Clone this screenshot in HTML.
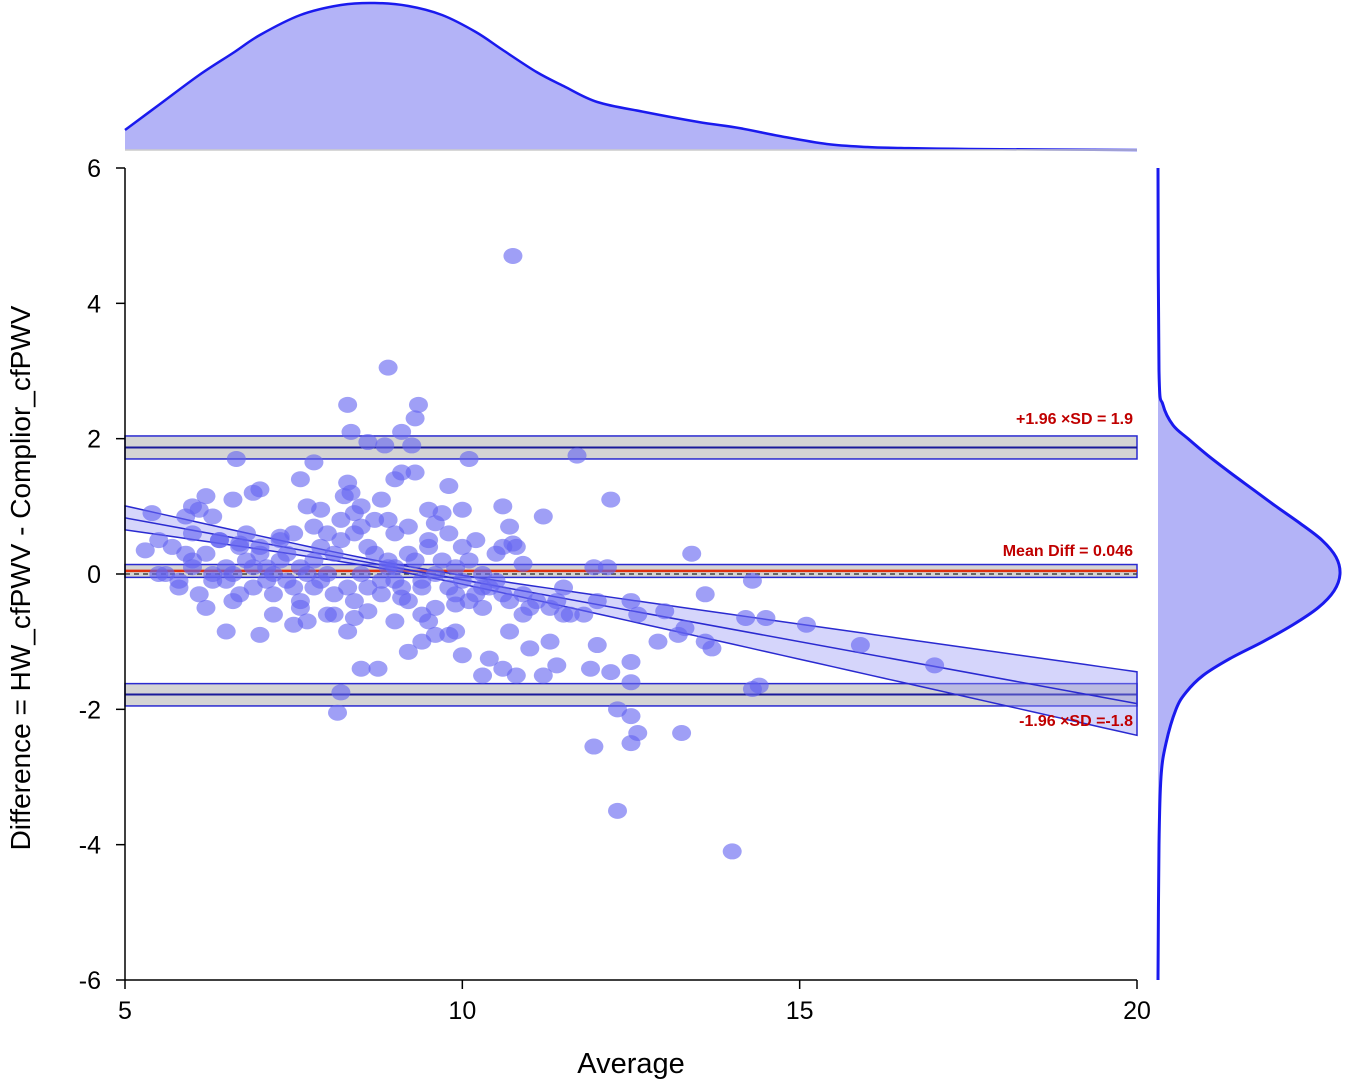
<!DOCTYPE html>
<html><head><meta charset="utf-8"><style>
body{margin:0;background:#fff;}
svg{display:block;font-family:"Liberation Sans",sans-serif;}
</style></head><body>
<svg id="chart" width="1350" height="1082" viewBox="0 0 1350 1082"></svg>
<script>
const xTicks=[5,10,15,20];
const yTicks=[-6,-4,-2,0,2,4,6];
const meanDiff=0.046, upperLoA=1.87, lowerLoA=-1.78;
const upperBand=[1.70,2.04], meanBand=[-0.05,0.14], lowerBand=[-1.95,-1.62];
const regIntercept=0.83, regSlope=-0.183;
const topDensX=[5,5.5,6.1,6.6,7.0,7.6,8.2,8.7,9.2,9.7,10.2,10.6,11.1,11.5,12.0,12.7,13.5,14.1,14.7,15.4,16.0,16.5,17.5,20];
const topDensY=[20,45,75,97,115,135,145,147,144,135,118,100,78,64,48,38,28,22,14,6,3,2,1,0];
const rightDensY=[6,3,2.5,2.2,2.0,1.75,1.5,1.25,1.0,0.75,0.5,0.25,0,-0.25,-0.5,-0.75,-1.0,-1.25,-1.5,-1.75,-2,-2.5,-3,-4,-6];
const rightDensV=[0,1,5,15,30,50,72,95,118,142,164,178,182,176,160,135,105,72,45,28,18,8,3,1,0];
const ptX=[10.75,8.9,8.3,9.35,9.3,8.35,8.6,9.1,8.85,9.25,10.1,11.7,6.65,7.8,12.2,7.6,8.3,8.35,8.25,9.0,9.1,9.3,9.8,6.9,6.2,6.0,6.1,5.9,5.4,6.3,6.6,7.0,7.7,7.9,8.5,8.8,9.5,9.7,10.0,10.6,10.7,11.2,10.75,10.6,13.4,11.95,12.15,14.3,13.6,12.5,12.6,13.0,13.3,13.2,12.9,13.6,13.7,14.2,14.5,15.1,15.9,17.0,14.3,14.4,12.5,12.5,12.0,12.2,11.9,12.3,12.5,12.5,12.6,11.95,13.25,12.3,14.0,8.15,8.2,8.5,8.75,9.2,9.4,9.8,10.0,9.9,10.4,10.3,10.6,10.8,11.2,11.0,10.7,11.3,11.5,11.6,11.4,6.5,7.0,7.5,7.7,8.0,8.3,8.4,9.0,9.5,9.6,
5.3,5.5,5.7,5.9,6.0,6.2,6.4,6.5,6.7,6.8,7.0,7.1,7.3,7.4,7.6,7.8,7.9,8.1,8.2,8.4,8.6,8.7,8.9,9.0,9.2,9.3,9.5,9.7,9.9,10.1,10.3,10.5,
5.6,5.8,6.0,6.3,6.5,6.6,6.9,7.1,7.2,7.5,7.7,7.9,8.0,8.3,8.5,8.8,8.9,9.1,9.4,9.6,9.8,10.0,10.2,10.4,10.7,10.9,11.1,11.3,
5.8,6.1,6.3,6.7,6.9,7.2,7.4,7.6,7.8,8.1,8.4,8.6,8.8,9.0,9.2,9.4,9.6,9.9,10.1,10.3,10.6,10.9,11.0,11.4,11.8,
6.0,6.4,6.8,7.0,7.3,7.5,7.8,8.0,8.2,8.5,8.7,9.0,9.2,9.5,9.8,10.0,10.2,10.5,10.8,
5.5,6.2,6.6,7.2,7.6,8.1,8.6,9.1,9.4,9.9,10.3,8.4,8.9,9.6,7.3,6.7,11.5,12.0,10.9];
const ptY=[4.7,3.05,2.5,2.5,2.3,2.1,1.95,2.1,1.9,1.9,1.7,1.75,1.7,1.65,1.1,1.4,1.35,1.2,1.15,1.4,1.5,1.5,1.3,1.2,1.15,1.0,0.95,0.85,0.9,0.85,1.1,1.25,1.0,0.95,1.0,1.1,0.95,0.9,0.95,1.0,0.7,0.85,0.45,0.4,0.3,0.1,0.1,-0.1,-0.3,-0.4,-0.6,-0.55,-0.8,-0.9,-1.0,-1.0,-1.1,-0.65,-0.65,-0.75,-1.05,-1.35,-1.7,-1.65,-1.3,-1.6,-1.05,-1.45,-1.4,-2.0,-2.1,-2.5,-2.35,-2.55,-2.35,-3.5,-4.1,-2.05,-1.75,-1.4,-1.4,-1.15,-1.0,-0.9,-1.2,-0.85,-1.25,-1.5,-1.4,-1.5,-1.5,-1.1,-0.85,-1.0,-0.6,-0.6,-1.35,-0.85,-0.9,-0.75,-0.7,-0.6,-0.85,-0.65,-0.7,-0.7,-0.9,
0.35,0.5,0.4,0.3,0.2,0.3,0.5,0.1,0.4,0.2,0.3,0.1,0.2,0.3,0.1,0.2,0.4,0.3,0.5,0.6,0.4,0.3,0.2,0.1,0.3,0.2,0.4,0.2,0.1,0.2,0.0,-0.1,
0.0,-0.1,0.1,0.0,-0.1,0.0,0.1,-0.1,0.0,-0.2,0.0,-0.1,0.0,-0.2,0.0,-0.1,0.1,-0.2,-0.1,0.0,-0.2,-0.1,-0.3,-0.2,-0.4,-0.3,-0.4,-0.5,
-0.2,-0.3,-0.1,-0.3,-0.2,-0.3,-0.1,-0.4,-0.2,-0.3,-0.4,-0.2,-0.3,-0.1,-0.4,-0.2,-0.5,-0.3,-0.4,-0.5,-0.3,-0.6,-0.5,-0.4,-0.6,
0.6,0.5,0.6,0.4,0.5,0.6,0.7,0.6,0.8,0.7,0.8,0.6,0.7,0.5,0.6,0.4,0.5,0.3,0.4,
0.0,-0.5,-0.4,-0.6,-0.5,-0.6,-0.55,-0.35,-0.6,-0.45,-0.2,0.9,0.8,0.75,0.55,0.45,-0.2,-0.4,0.15];

const NS='http://www.w3.org/2000/svg';
const svg=document.getElementById('chart');
const X0=125,X1=1137,Y0=168,Y1=980;
const sx=v=>X0+(v-5)/15*(X1-X0);
const sy=v=>Y0+(6-v)/12*(Y1-Y0);
function mk(tag,attrs,parent){const e=document.createElementNS(NS,tag);for(const k in attrs)e.setAttribute(k,attrs[k]);(parent||svg).appendChild(e);return e;}
function smooth(pts){let d='M'+pts[0][0]+','+pts[0][1];
for(let i=0;i<pts.length-1;i++){const p0=pts[i-1]||pts[i],p1=pts[i],p2=pts[i+1],p3=pts[i+2]||p2;
d+=' C'+(p1[0]+(p2[0]-p0[0])/6)+','+(p1[1]+(p2[1]-p0[1])/6)+' '+(p2[0]-(p3[0]-p1[0])/6)+','+(p2[1]-(p3[1]-p1[1])/6)+' '+p2[0]+','+p2[1];}
return d;}

// top density
const tpts=topDensX.map((x,i)=>[sx(x),150-topDensY[i]]);
const tcurve=smooth(tpts);
const td=mk('path',{d:tcurve+' L'+sx(20)+',150 L'+sx(5)+',150 Z',fill:'#b3b3f7',stroke:'none'});


const tdl=mk('path',{d:tcurve,fill:'none',stroke:'#1a1aee','stroke-width':2.5});


mk('line',{x1:X0,x2:X1,y1:150,y2:150,stroke:'#ccc','stroke-width':1.5});

// right density
const RB=1158;
const rpts=rightDensY.map((y,i)=>[RB+rightDensV[i],sy(y)]);
const rcurve=smooth(rpts);
const rdf=mk('path',{d:rcurve+' L'+RB+','+sy(-6)+' L'+RB+','+sy(6)+' Z',fill:'#b3b3f7'});


const rdl=mk('path',{d:rcurve,fill:'none',stroke:'#1a1aee','stroke-width':3});



// bands
function band(b,name){const r=mk('rect',{x:X0,y:sy(b[1]),width:X1-X0,height:sy(b[0])-sy(b[1]),fill:'#d4d4d4',stroke:'#2a2ad0','stroke-width':1.5});
}
band(upperBand,'upper-loa-ci-band');band(meanBand,'mean-ci-band');band(lowerBand,'lower-loa-ci-band');
const u=mk('line',{x1:X0,x2:X1,y1:sy(upperLoA),y2:sy(upperLoA),stroke:'#1a1a9a','stroke-width':2});

const lo=mk('line',{x1:X0,x2:X1,y1:sy(lowerLoA),y2:sy(lowerLoA),stroke:'#1a1a9a','stroke-width':2});

const z=mk('line',{x1:X0,x2:X1,y1:sy(0),y2:sy(0),stroke:'#444','stroke-width':1.5,'stroke-dasharray':'5,4'});

const m=mk('line',{x1:X0,x2:X1,y1:sy(meanDiff),y2:sy(meanDiff),stroke:'#e03010','stroke-width':2.5});


// regression with CI
const se=x=>Math.sqrt(0.0025+0.0018*(x-9)*(x-9));
let up='',dn='';
for(let x=5;x<=20.001;x+=0.25){const c=regIntercept+regSlope*(x-5);up+=(up?' L':'M')+sx(x)+','+sy(c+se(x));}
for(let x=20;x>=4.999;x-=0.25){const c=regIntercept+regSlope*(x-5);dn+=' L'+sx(x)+','+sy(c-se(x));}
const rc=mk('path',{d:up+dn+' Z',fill:'rgba(150,150,245,0.4)',stroke:'#2a2ad0','stroke-width':1.5});

const rg=mk('line',{x1:sx(5),y1:sy(regIntercept),x2:sx(20),y2:sy(regIntercept+regSlope*15),stroke:'#2a2ad0','stroke-width':1.5});


// points
ptX.forEach((x,i)=>{
const p=mk('ellipse',{cx:sx(x),cy:sy(ptY[i]),rx:9.5,ry:8,fill:'rgba(100,100,240,0.62)'});


});

// labels
function lab(txt,y,name){const t=mk('text',{x:1133,y:y,'text-anchor':'end','font-size':16,'font-weight':'bold',fill:'#c00000'});t.textContent=txt;
}
lab('+1.96 ×SD = 1.9',424,'upper-loa-label');
lab('Mean Diff = 0.046',556,'mean-diff-label');
lab('-1.96 ×SD =-1.8',726,'lower-loa-label');

// axes
const ya=mk('line',{x1:X0,x2:X0,y1:Y0,y2:Y1,stroke:'#000','stroke-width':1.5});

const xa=mk('line',{x1:X0,x2:X1,y1:Y1,y2:Y1,stroke:'#000','stroke-width':1.5});

yTicks.forEach(v=>{mk('line',{x1:X0-9,x2:X0,y1:sy(v),y2:sy(v),stroke:'#000','stroke-width':1.5});
const t=mk('text',{x:101,y:sy(v)+9,'text-anchor':'end','font-size':25,fill:'#000'});t.textContent=v;
});
xTicks.forEach(v=>{mk('line',{x1:sx(v),x2:sx(v),y1:Y1,y2:Y1+9,stroke:'#000','stroke-width':1.5});
const t=mk('text',{x:sx(v),y:1019,'text-anchor':'middle','font-size':25,fill:'#000'});t.textContent=v;
});
const xt=mk('text',{x:631,y:1073,'text-anchor':'middle','font-size':29,fill:'#000'});xt.textContent='Average';

const yt=mk('text',{x:0,y:0,'text-anchor':'middle','font-size':28,fill:'#000',transform:'translate(30,578) rotate(-90)'});yt.textContent='Difference = HW_cfPWV - Complior_cfPWV';

</script>
</body></html>
